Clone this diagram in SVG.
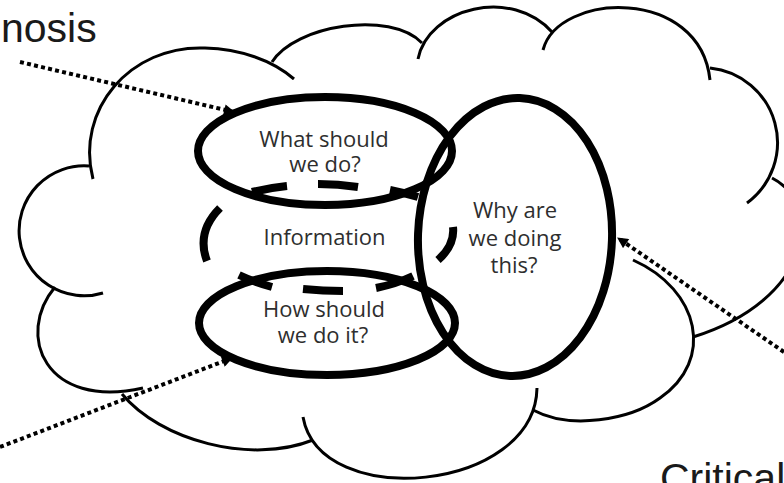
<svg xmlns="http://www.w3.org/2000/svg" width="784" height="483" viewBox="0 0 784 483">
<defs>
<style>
.cloud{fill:none;stroke:#000;stroke-width:3;stroke-linecap:butt}
.ring{fill:none;stroke:#000;stroke-width:8}
.dash{fill:none;stroke:#000;stroke-width:8;stroke-linecap:butt}
.dots{fill:none;stroke:#000;stroke-width:4;stroke-dasharray:4 3.2}
.lbl{font-family:"Open Sans","Liberation Sans",sans-serif;font-size:22px;fill:#2e2e2e;text-anchor:middle}
.big{font-family:"Liberation Sans",Arial,sans-serif;font-size:41px;fill:#1a1a1a}
</style>
<marker id="ah" viewBox="0 0 10 10" refX="9" refY="5" markerWidth="12" markerHeight="11" markerUnits="userSpaceOnUse" orient="auto">
<path d="M0,0 L10,5 L0,10 z" fill="#000"/>
</marker>
</defs>
<rect width="784" height="483" fill="#fff"/>
<g id="cloud">
<path class="cloud" d="M93,179 C75,110 130,45 205,48 C240,49 272,60 294,79"/>
<path class="cloud" d="M272,62 C295,25 390,10 422,43"/>
<path class="cloud" d="M418,59 C428,8 512,-14 553,33"/>
<path class="cloud" d="M543,50 C558,-8 700,-14 710,80"/>
<path class="cloud" d="M710,68 A75,75 0 0 1 747,203"/>
<path class="cloud" d="M772,178 C825,205 812,300 693,337"/>
<path class="cloud" d="M633,260 C700,290 715,360 660,398 C630,420 570,430 533,410"/>
<path class="cloud" d="M537,388 C535,492 320,512 303,417"/>
<path class="cloud" d="M313,440 C250,465 160,440 122,394"/>
<path class="cloud" d="M55,287 C15,335 45,410 143,388"/>
<path class="cloud" d="M89,166 A65,65 0 1 0 103,293"/>
</g>
<g id="what">
<ellipse class="ring" cx="325" cy="151" rx="127" ry="54"/>
<text class="lbl" x="324" y="147">What should</text>
<text class="lbl" x="325" y="172">we do?</text>
</g>
<g id="how">
<ellipse class="ring" cx="327" cy="323" rx="128" ry="52"/>
<text class="lbl" x="324" y="317">How should</text>
<text class="lbl" x="323" y="343">we do it?</text>
</g>
<g id="why">
<ellipse class="ring" cx="515" cy="237" rx="97" ry="139" transform="rotate(2 515 237)"/>
<text class="lbl" x="515" y="218">Why are</text>
<text class="lbl" x="515" y="246">we doing</text>
<text class="lbl" x="514" y="273">this?</text>
</g>
<g id="information">
<path class="dash" d="M252,192 Q268,188 287,186"/>
<path class="dash" d="M318,184 Q338,184 358,187"/>
<path class="dash" d="M390,190 Q405,193 418,197"/>
<path class="dash" d="M453,227 Q455,245 438,260"/>
<path class="dash" d="M413,276 Q396,284 376,288"/>
<path class="dash" d="M343,291 Q323,291 303,289"/>
<path class="dash" d="M272,287 Q254,282 239,275"/>
<path class="dash" d="M207,261 Q196,232 220,208"/>
<text class="lbl" x="324.5" y="245">Information</text>
</g>
<g id="connectors">
<path class="dots" d="M20,62 L234,112" marker-end="url(#ah)"/>
<path class="dots" d="M0,447 L232,358" marker-end="url(#ah)"/>
<path class="dots" d="M784,352 L618,238" marker-end="url(#ah)"/>
</g>
<g id="labels">
<text class="big" x="1" y="42">nosis</text>
<text class="big" x="660" y="492">Critical</text>
</g>
</svg>
